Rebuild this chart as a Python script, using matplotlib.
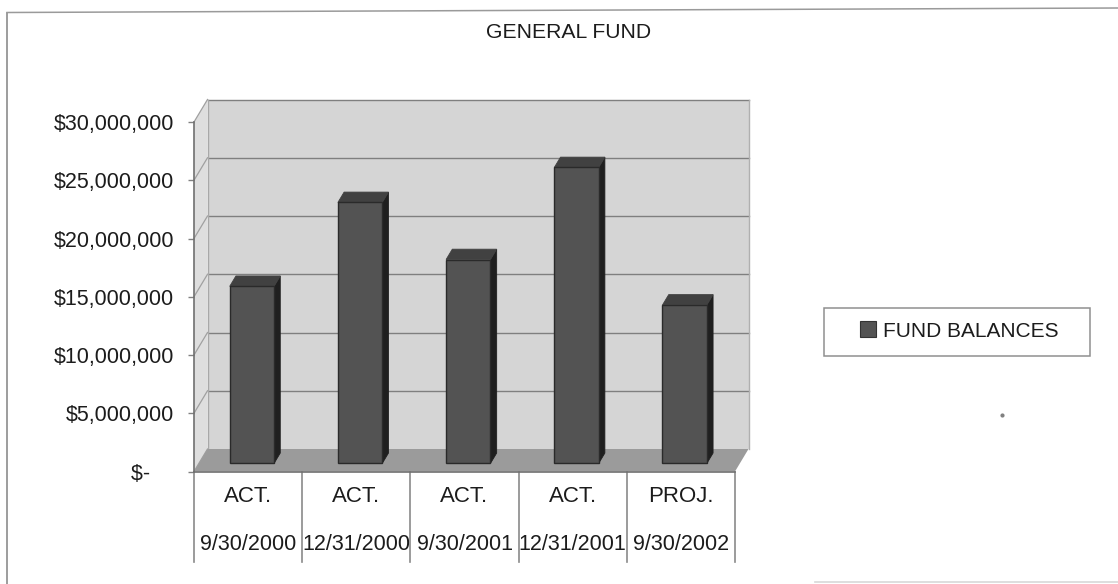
import matplotlib
matplotlib.use('Agg')
import matplotlib.pyplot as plt
from matplotlib.lines import Line2D
from matplotlib.patches import Patch, Polygon, Rectangle

plt.rcParams['font.family'] = ['Liberation Sans', 'DejaVu Sans']

title = 'GENERAL FUND'
status = ['ACT.', 'ACT.', 'ACT.', 'ACT.', 'PROJ.']
dates = ['9/30/2000', '12/31/2000', '9/30/2001', '12/31/2001', '9/30/2002']
balances = [15200000, 22400000, 17500000, 25400000, 13600000]
y_ticks = [0, 5000000, 10000000, 15000000, 20000000, 25000000, 30000000]
y_labels = ['$-    ', '$5,000,000', '$10,000,000', '$15,000,000',
            '$20,000,000', '$25,000,000', '$30,000,000']
legend_label = 'FUND BALANCES'

W, H = 1118, 584
FRONT_L, FRONT_R = 194, 735
FRONT_T, FRONT_B = 122, 471.5
DEPTH_X_PX, DEPTH_Y_PX = 13.5, 22.5

WALL = '#d5d5d5'
SIDE_WALL = '#dedede'
FLOOR = '#9b9b9b'
GRID = '#7f7f7f'
BAR_FRONT = '#535353'
BAR_TOP = '#414141'
BAR_SIDE = '#1f1f1f'
TEXT = '#1c1c1c'

fig = plt.figure(figsize=(W / 100, H / 100), dpi=100, facecolor='white')
ax = fig.add_axes([FRONT_L / W, 1 - FRONT_B / H,
                   (FRONT_R - FRONT_L) / W, (FRONT_B - FRONT_T) / H])
ax.set_xlim(0, len(balances))
ax.set_ylim(0, 30000000)
ax.patch.set_visible(False)

# data units per pixel, used to fake the 3D depth offset
ux = len(balances) / (FRONT_R - FRONT_L)
uy = 30000000 / (FRONT_B - FRONT_T)


def proj(x, y, d):
    return (x + d * DEPTH_X_PX * ux, y + d * DEPTH_Y_PX * uy)


def face(points, **kw):
    ax.add_patch(Polygon([proj(*p) for p in points], closed=True,
                         clip_on=False, **kw))


n = len(balances)
top = y_ticks[-1]

# walls and floor
face([(0, 0, 1), (n, 0, 1), (n, top, 1), (0, top, 1)], fc=WALL, ec='none', zorder=1)
face([(0, 0, 0), (0, 0, 1), (0, top, 1), (0, top, 0)], fc=SIDE_WALL, ec='none', zorder=1)
face([(0, 0, 0), (n, 0, 0), (n, 0, 1), (0, 0, 1)], fc=FLOOR, ec='none', zorder=2)

# gridlines run along the back wall and down the side wall
for v in y_ticks:
    x0, y0 = proj(0, v, 0)
    x1, y1 = proj(0, v, 1)
    x2, y2 = proj(n, v, 1)
    if v > 0:
        ax.plot([x1, x2], [y1, y2], color=GRID, lw=1.0, zorder=1.5, clip_on=False)
    ax.plot([x0, x1], [y0, y1], color='#a0a0a0', lw=0.9, zorder=1.5, clip_on=False)

x1, y1 = proj(0, 0, 1)
x2, y2 = proj(0, top, 1)
ax.plot([x1, x2], [y1, y2], color='#a8a8a8', lw=1, zorder=1.5, clip_on=False)
x1, y1 = proj(n, 0, 1)
x2, y2 = proj(n, top, 1)
ax.plot([x1, x2], [y1, y2], color='#b0b0b0', lw=1, zorder=1.5, clip_on=False)

# bars
BAR_W = 0.41
BAR_CENTER = 0.49
D0, D1 = 0.36, 0.82
for i, v in enumerate(balances):
    l = i + BAR_CENTER - BAR_W / 2
    r = i + BAR_CENTER + BAR_W / 2
    face([(r, 0, D0), (r, 0, D1), (r, v, D1), (r, v, D0)], fc=BAR_SIDE, ec=BAR_SIDE, lw=0.6, zorder=3)
    face([(l, v, D0), (r, v, D0), (r, v, D1), (l, v, D1)], fc=BAR_TOP, ec=BAR_TOP, lw=0.6, zorder=3)
    face([(l, 0, D0), (r, 0, D0), (r, v, D0), (l, v, D0)], fc=BAR_FRONT, ec='#2a2a2a', lw=1, zorder=4)

for side in ['top', 'right']:
    ax.spines[side].set_visible(False)
for side in ['left', 'bottom']:
    ax.spines[side].set_color('#707070')
    ax.spines[side].set_linewidth(1.2)
    ax.spines[side].set_zorder(5)

ax.set_xticks([])
ax.set_yticks(y_ticks)
ax.set_yticklabels(y_labels)
ax.tick_params(axis='y', length=4.5, width=1, color='#808080', pad=10,
               labelsize=15.5, labelcolor=TEXT)

# category table under the axis
xtrans = ax.get_xaxis_transform()
table_bottom = -(562 - FRONT_B) / (FRONT_B - FRONT_T)
for i in range(n + 1):
    ax.plot([i, i], [0, table_bottom], transform=xtrans, color='#8a8a8a',
            lw=1.2, clip_on=False, zorder=5)
for i in range(n):
    ax.text(i + 0.5, -(496 - FRONT_B) / (FRONT_B - FRONT_T), status[i], transform=xtrans,
            ha='center', va='center', fontsize=16, color=TEXT)
    ax.text(i + 0.5, -(544 - FRONT_B) / (FRONT_B - FRONT_T), dates[i], transform=xtrans,
            ha='center', va='center', fontsize=15.5, color=TEXT)

fig.text(569 / W, 1 - 32 / H, title, ha='center', va='center', fontsize=15.2, color=TEXT)

# legend box is drawn separately, it is wider than the entry it holds
fig.add_artist(Rectangle((824 / W, 1 - 356 / H), 266 / W, 48 / H, transform=fig.transFigure,
                         fc='white', ec='#8f8f8f', lw=1.1))
handle = Patch(fc=BAR_FRONT, ec='#333333', lw=0.8)
leg = fig.legend(handles=[handle], labels=[legend_label], loc='center',
                 bbox_to_anchor=(959 / W, 1 - 331 / H), fontsize=15, labelcolor=TEXT,
                 frameon=False, handlelength=0.8, handleheight=0.8, handletextpad=0.3,
                 borderpad=0, borderaxespad=0)

# outer chart border
fig.add_artist(Line2D([7 / W, 7 / W], [1 - 12.5 / H, 0], color='#8c8c8c', lw=1.2))
fig.add_artist(Line2D([7 / W, 1], [1 - 12.5 / H, 1 - 8 / H], color='#9a9a9a', lw=1.1))
fig.add_artist(Line2D([815 / W, 1], [1 - 582 / H, 1 - 582 / H], color='#d8d8d8', lw=1.2))
fig.add_artist(Line2D([1002 / W], [1 - 415 / H], marker='o', ms=2, color='#808080', lw=0))

fig.savefig('out.png', dpi=100)
